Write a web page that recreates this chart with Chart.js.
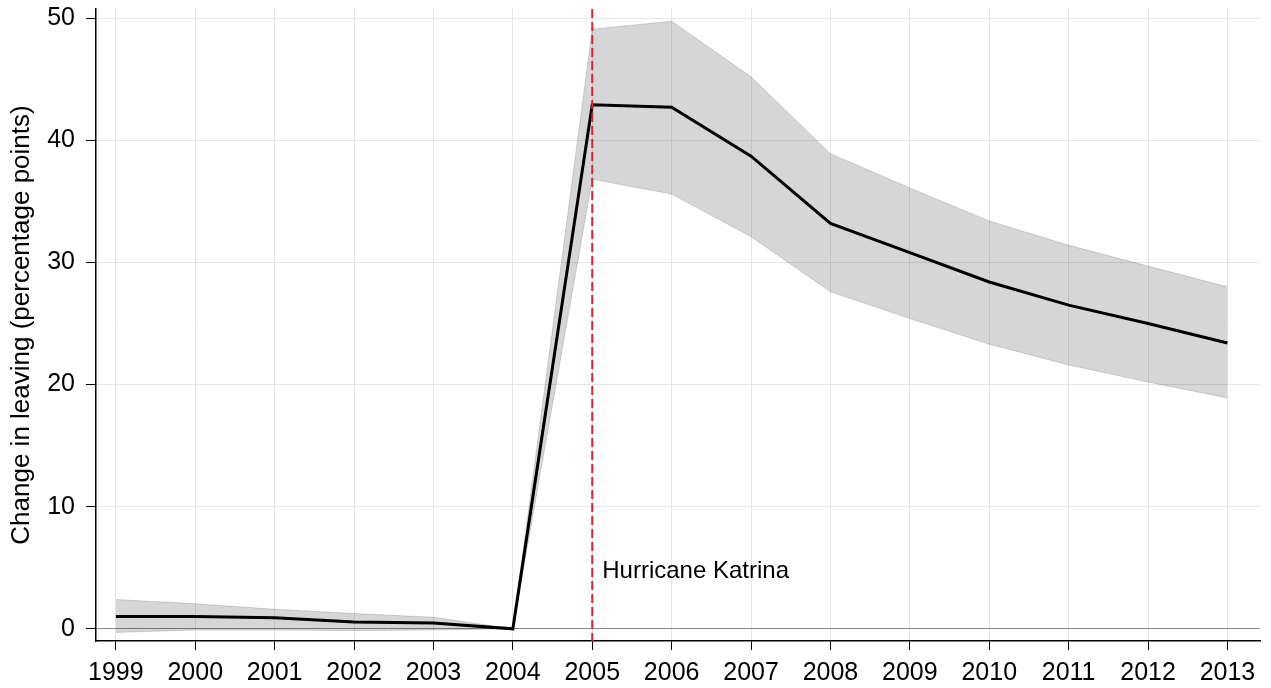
<!DOCTYPE html>
<html>
<head>
<meta charset="utf-8">
<script src="https://cdn.jsdelivr.net/npm/chart.js@4/dist/chart.umd.min.js"></script>
<style>
  html, body { margin: 0; padding: 0; background: #fff; }
  #wrap { width: 1271px; height: 688px; }
</style>
</head>
<body>
<div id="wrap"><canvas id="grafico"></canvas></div>
<script>
const years = [1999, 2000, 2001, 2002, 2003, 2004, 2005, 2006, 2007, 2008, 2009, 2010, 2011, 2012, 2013];
const estimate = [1.0, 1.0, 0.9, 0.55, 0.47, 0, 42.9, 42.7, 38.7, 33.2, 30.8, 28.4, 26.5, 25.0, 23.4];
const upper = [2.4, 2.05, 1.6, 1.25, 0.95, 0, 49.1, 49.75, 45.2, 38.9, 36.1, 33.4, 31.4, 29.7, 28.0];
const lower = [-0.3, -0.1, -0.1, -0.15, -0.1, 0, 36.8, 35.6, 32.1, 27.6, 25.4, 23.3, 21.6, 20.2, 18.9];
const yTicks = [0, 10, 20, 30, 40, 50];
const katrinaYear = 2005;
const katrinaLabel = "Hurricane Katrina";

const font = "'Liberation Sans', Arial, Helvetica, sans-serif";

function puntos(vals) {
  return years.map((x, i) => ({ x: x, y: vals[i] }));
}

// linea roja punteada y etiqueta del huracan
const katrinaPlugin = {
  id: "katrina",
  afterDatasetsDraw(chart) {
    const { ctx, chartArea, scales } = chart;
    const x = scales.x.getPixelForValue(katrinaYear);
    ctx.save();
    ctx.strokeStyle = "#e0202a";
    ctx.lineWidth = 2;
    ctx.setLineDash([9, 4]);
    ctx.beginPath();
    ctx.moveTo(x, chartArea.top);
    ctx.lineTo(x, chartArea.bottom);
    ctx.stroke();
    ctx.setLineDash([]);
    ctx.fillStyle = "#000";
    ctx.font = "24px " + font;
    ctx.textAlign = "left";
    ctx.textBaseline = "middle";
    ctx.fillText(katrinaLabel, x + 10, scales.y.getPixelForValue(4.7));
    ctx.restore();
  }
};

const ctx = document.getElementById("grafico").getContext("2d");
const chart = new Chart(ctx, {
  type: "line",
  data: {
    datasets: [
      {
        label: "estimate",
        data: puntos(estimate),
        borderColor: "#000",
        borderWidth: 3,
        pointRadius: 0,
        fill: false,
        tension: 0
      },
      {
        label: "upper",
        data: puntos(upper),
        borderColor: "rgba(0,0,0,0.15)",
        borderWidth: 1,
        backgroundColor: "rgba(0,0,0,0.16)",
        pointRadius: 0,
        fill: "+1",
        tension: 0
      },
      {
        label: "lower",
        data: puntos(lower),
        borderColor: "rgba(0,0,0,0.15)",
        borderWidth: 1,
        pointRadius: 0,
        fill: false,
        tension: 0
      }
    ]
  },
  options: {
    responsive: true,
    maintainAspectRatio: false,
    animation: false,
    layout: { padding: { top: 9, right: 11, left: 0, bottom: 0 } },
    plugins: {
      legend: { display: false },
      tooltip: { enabled: false }
    },
    scales: {
      x: {
        type: "linear",
        min: 1998.75,
        max: 2013.41,
        afterBuildTicks: s => { s.ticks = years.map(v => ({ value: v })); },
        afterFit: s => { s.height = 47; s.paddingLeft = 0; s.paddingRight = 0; },
        grid: {
          color: "#e6e6e6",
          lineWidth: 1,
          tickColor: "#000",
          tickLength: 9
        },
        border: { color: "#000", width: 1.5 },
        ticks: {
          color: "#000",
          font: { family: font, size: 25 },
          padding: 8,
          maxRotation: 0,
          autoSkip: false,
          callback: v => String(v)
        }
      },
      y: {
        type: "linear",
        min: -1,
        max: 50.75,
        afterBuildTicks: s => { s.ticks = yTicks.map(v => ({ value: v })); },
        afterFit: s => { s.width = 96; s.paddingTop = 0; s.paddingBottom = 0; },
        grid: {
          color: c => (c.tick && c.tick.value === 0 ? "#8c8c8c" : "#e6e6e6"),
          lineWidth: 1,
          tickColor: "#000",
          tickLength: 10
        },
        border: { color: "#000", width: 1.5 },
        ticks: {
          color: "#000",
          font: { family: font, size: 25 },
          padding: 11
        },
        title: {
          display: true,
          text: "Change in leaving (percentage points)",
          color: "#000",
          font: { family: font, size: 26, lineHeight: 1.2 },
          padding: { top: 6, bottom: 0 }
        }
      }
    }
  },
  plugins: [katrinaPlugin]
});
</script>
</body>
</html>
